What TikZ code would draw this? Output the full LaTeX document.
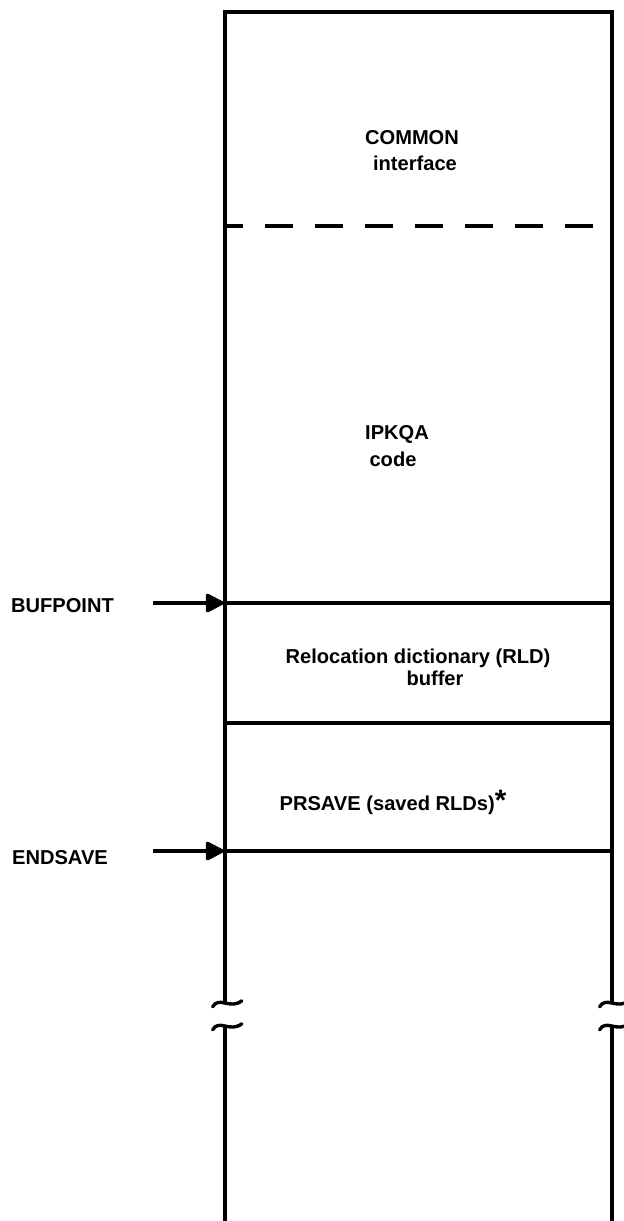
\documentclass[tikz,border=0pt]{standalone}
\usepackage{fontspec}
\setmainfont{Liberation Sans}
\usetikzlibrary{arrows.meta}

\begin{document}
\begin{tikzpicture}[
    wall/.style={line width=2.4pt},
    ptr/.style={line width=2.2pt, -{Triangle[length=5mm,width=5mm,round]}},
    txt/.style={font=\bfseries\fontsize{14.3}{17}\selectfont, inner sep=0pt, anchor=base}]
  \useasboundingbox (0,0) rectangle (15.6,-30.525);
  % 外枠（下端は開いたまま）
  \coordinate (tl) at (5.625,-0.3);
  \coordinate (tr) at (15.3,-0.3);
  \draw[wall] (5.625,-25.05) -- (tl) -- (tr) -- (15.3,-25.05);
  \draw[wall] (5.625,-25.625) -- (5.625,-30.6);
  \draw[wall] (15.3,-25.625) -- (15.3,-30.6);
  % 切れ目の波線
  \foreach \bx in {5.625,15.3}
    \foreach \by in {-25.05,-25.625}
      \draw[wall, line cap=round] (\bx-0.31,\by-0.12) .. controls (\bx-0.15,\by+0.16) and (\bx+0.12,\by-0.2) .. (\bx+0.42,\by+0.03);
  % 区切り線
  \draw[wall, dash pattern=on 7mm off 5.5mm, dash phase=2.5mm] (5.625,-5.65) -- (15.3,-5.65);
  \draw[wall] (5.625,-15.075) -- (15.3,-15.075);
  \draw[wall] (5.625,-18.075) -- (15.3,-18.075);
  \draw[wall] (5.625,-21.275) -- (15.3,-21.275);
  % 各領域のラベル
  \node[txt] (common) at (10.3,-3.6) {COMMON};
  \node[txt] (iface) at (10.375,-4.25) {interface};
  \node[txt] (ipkqa) at (9.925,-10.975) {IPKQA};
  \node[txt] (code) at (9.825,-11.65) {code};
  \node[txt] (rld) at (10.45,-16.575) {Relocation dictionary (RLD)};
  \node[txt] (buffer) at (10.875,-17.125) {buffer};
  \node[txt] (prsave) at (9.825,-20.25) {PRSAVE (saved RLDs){\fontsize{21}{21}\selectfont*}};
  % ポインタ
  \node[txt] (bufpoint) at (1.5625,-15.3) {BUFPOINT};
  \node[txt] (endsave) at (1.5,-21.6) {ENDSAVE};
  \coordinate (bufstart) at (3.825,-15.075);
  \coordinate (bufhit) at (5.6,-15.075);
  \coordinate (endstart) at (3.825,-21.275);
  \coordinate (endhit) at (5.6,-21.275);
  \draw[ptr] (bufstart) -- (bufhit);
  \draw[ptr] (endstart) -- (endhit);
\end{tikzpicture}
\end{document}
